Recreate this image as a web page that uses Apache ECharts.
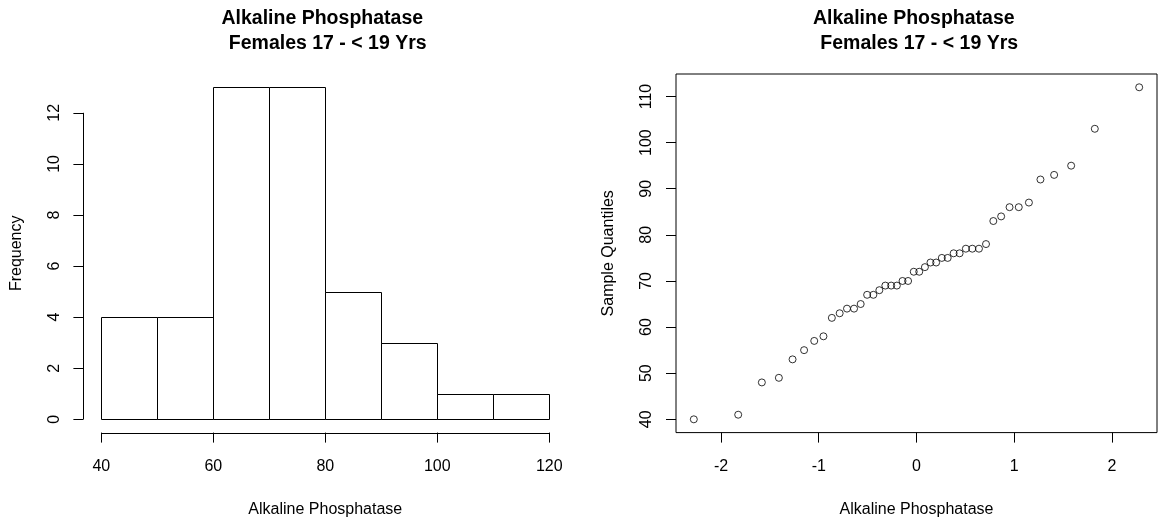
<!DOCTYPE html>
<html><head><meta charset="utf-8">
<script src="https://cdn.jsdelivr.net/npm/echarts@6/dist/echarts.min.js"></script>
<style>html,body{margin:0;padding:0;background:#fff}#c{width:1160px;height:523px}</style>
</head><body><div id="c"></div>
<script>
// ---- data ----
const binEdges = [40, 50, 60, 70, 80, 90, 100, 110, 120];
const counts = [4, 4, 13, 13, 5, 3, 1, 1];
const histXTicks = [40, 60, 80, 100, 120];
const histYTicks = [0, 2, 4, 6, 8, 10, 12];

const theoretical = [-2.278, -1.824, -1.582, -1.408, -1.268, -1.150, -1.046, -0.952, -0.866, -0.786, -0.711,
  -0.639, -0.571, -0.505, -0.441, -0.380, -0.319, -0.259, -0.201, -0.143, -0.086, -0.028,
  0.028, 0.086, 0.143, 0.201, 0.259, 0.319, 0.380, 0.441, 0.505, 0.571, 0.639,
  0.711, 0.786, 0.866, 0.952, 1.046, 1.150, 1.268, 1.408, 1.582, 1.824, 2.278];
const sample = [40, 41, 48, 49, 53, 55, 57, 58, 62, 63, 64,
  64, 65, 67, 67, 68, 69, 69, 69, 70, 70, 72,
  72, 73, 74, 74, 75, 75, 76, 76, 77, 77, 77,
  78, 83, 84, 86, 86, 87, 92, 93, 95, 103, 112];
const qqXTicks = [-2, -1, 0, 1, 2];
const qqYTicks = [40, 50, 60, 70, 80, 90, 100, 110];

const titleText = 'Alkaline Phosphatase \n Females 17 - < 19 Yrs';
const xName = 'Alkaline Phosphatase';
const histYName = 'Frequency';
const qqYName = 'Sample Quantiles';

// ---- helpers ----
function padRange(lo, hi) { const d = (hi - lo) * 0.04; return [lo - d, hi + d]; }
const histX = padRange(binEdges[0], binEdges[binEdges.length - 1]);
const histY = padRange(0, Math.max(...counts));
const qqX = padRange(Math.min(...theoretical), Math.max(...theoretical));
const qqY = padRange(Math.min(...sample), Math.max(...sample));

const FONT = "'Liberation Sans', Arial, Helvetica, sans-serif";
const TXT = { fontSize: 16, color: '#000', fontFamily: FONT };
const crisp = v => Math.round(v) + 0.5;

function xAx(grid, range, ticks) {
  return {
    type: 'value', gridIndex: grid, min: range[0], max: range[1],
    name: xName, nameLocation: 'middle', nameGap: 69, nameTextStyle: TXT,
    axisLine: { show: false, onZero: false }, splitLine: { show: false },
    axisTick: { show: true, customValues: ticks, length: 10, lineStyle: { color: '#000', width: 1 } },
    axisLabel: Object.assign({ customValues: ticks, margin: 26 }, TXT)
  };
}
function yAx(grid, range, ticks, name) {
  return {
    type: 'value', gridIndex: grid, min: range[0], max: range[1],
    name: name, nameLocation: 'middle', nameGap: 59, nameRotate: 90, nameTextStyle: TXT,
    axisLine: { show: false, onZero: false }, splitLine: { show: false },
    axisTick: { show: true, customValues: ticks, length: 10, lineStyle: { color: '#000', width: 1 } },
    axisLabel: Object.assign({ customValues: ticks, margin: 21, rotate: 90 }, TXT)
  };
}

const histData = counts.map((c, i) => [binEdges[i], binEdges[i + 1], c]);
const qqData = theoretical.map((t, i) => [t, sample[i]]);

const chart = echarts.init(document.getElementById('c'), null, { renderer: 'canvas' });
chart.setOption({
  animation: false,
  backgroundColor: '#fff',
  title: [
    { text: titleText, left: 325, top: 6, padding: 0, textAlign: 'center',
      textStyle: { fontSize: 19.5, fontWeight: 'bold', lineHeight: 25, color: '#000', fontFamily: FONT } },
    { text: titleText, left: 916.5, top: 6, padding: 0, textAlign: 'center',
      textStyle: { fontSize: 19.5, fontWeight: 'bold', lineHeight: 25, color: '#000', fontFamily: FONT } }
  ],
  grid: [
    { left: 83.4, top: 74, width: 483.8, height: 358.6, show: false },
    { left: 676, top: 74, width: 481, height: 358.6, show: true, borderColor: '#000', borderWidth: 1, backgroundColor: 'transparent' }
  ],
  xAxis: [xAx(0, histX, histXTicks), xAx(1, qqX, qqXTicks)],
  yAxis: [yAx(0, histY, histYTicks, histYName), yAx(1, qqY, qqYTicks, qqYName)],
  series: [
    {
      type: 'custom', xAxisIndex: 0, yAxisIndex: 0, data: histData, silent: true,
      renderItem(params, api) {
        const p0 = api.coord([api.value(0), api.value(2)]);
        const p1 = api.coord([api.value(1), 0]);
        const x = crisp(p0[0]), y = crisp(p0[1]);
        return { type: 'rect', shape: { x: x, y: y, width: crisp(p1[0]) - x, height: crisp(p1[1]) - y },
          style: { fill: '#fff', stroke: '#000', lineWidth: 1 } };
      }
    },
    {
      type: 'custom', xAxisIndex: 0, yAxisIndex: 0, data: [[histXTicks[0], histYTicks[0]]], silent: true, z: 5,
      renderItem(params, api) {
        const a = api.coord([histXTicks[0], histY[0]]);
        const b = api.coord([histXTicks[histXTicks.length - 1], histY[0]]);
        const c = api.coord([histX[0], histYTicks[0]]);
        const d = api.coord([histX[0], histYTicks[histYTicks.length - 1]]);
        return { type: 'group', children: [
          { type: 'line', shape: { x1: a[0], y1: crisp(a[1]), x2: b[0], y2: crisp(b[1]) }, style: { stroke: '#000', lineWidth: 1 } },
          { type: 'line', shape: { x1: crisp(c[0]), y1: c[1], x2: crisp(d[0]), y2: d[1] }, style: { stroke: '#000', lineWidth: 1 } }
        ] };
      }
    },
    {
      type: 'scatter', xAxisIndex: 1, yAxisIndex: 1, data: qqData, symbol: 'circle', symbolSize: 7,
      itemStyle: { color: 'rgba(0,0,0,0)', borderColor: '#000', borderWidth: 1 }, silent: true
    }
  ]
});
</script>
</body></html>
